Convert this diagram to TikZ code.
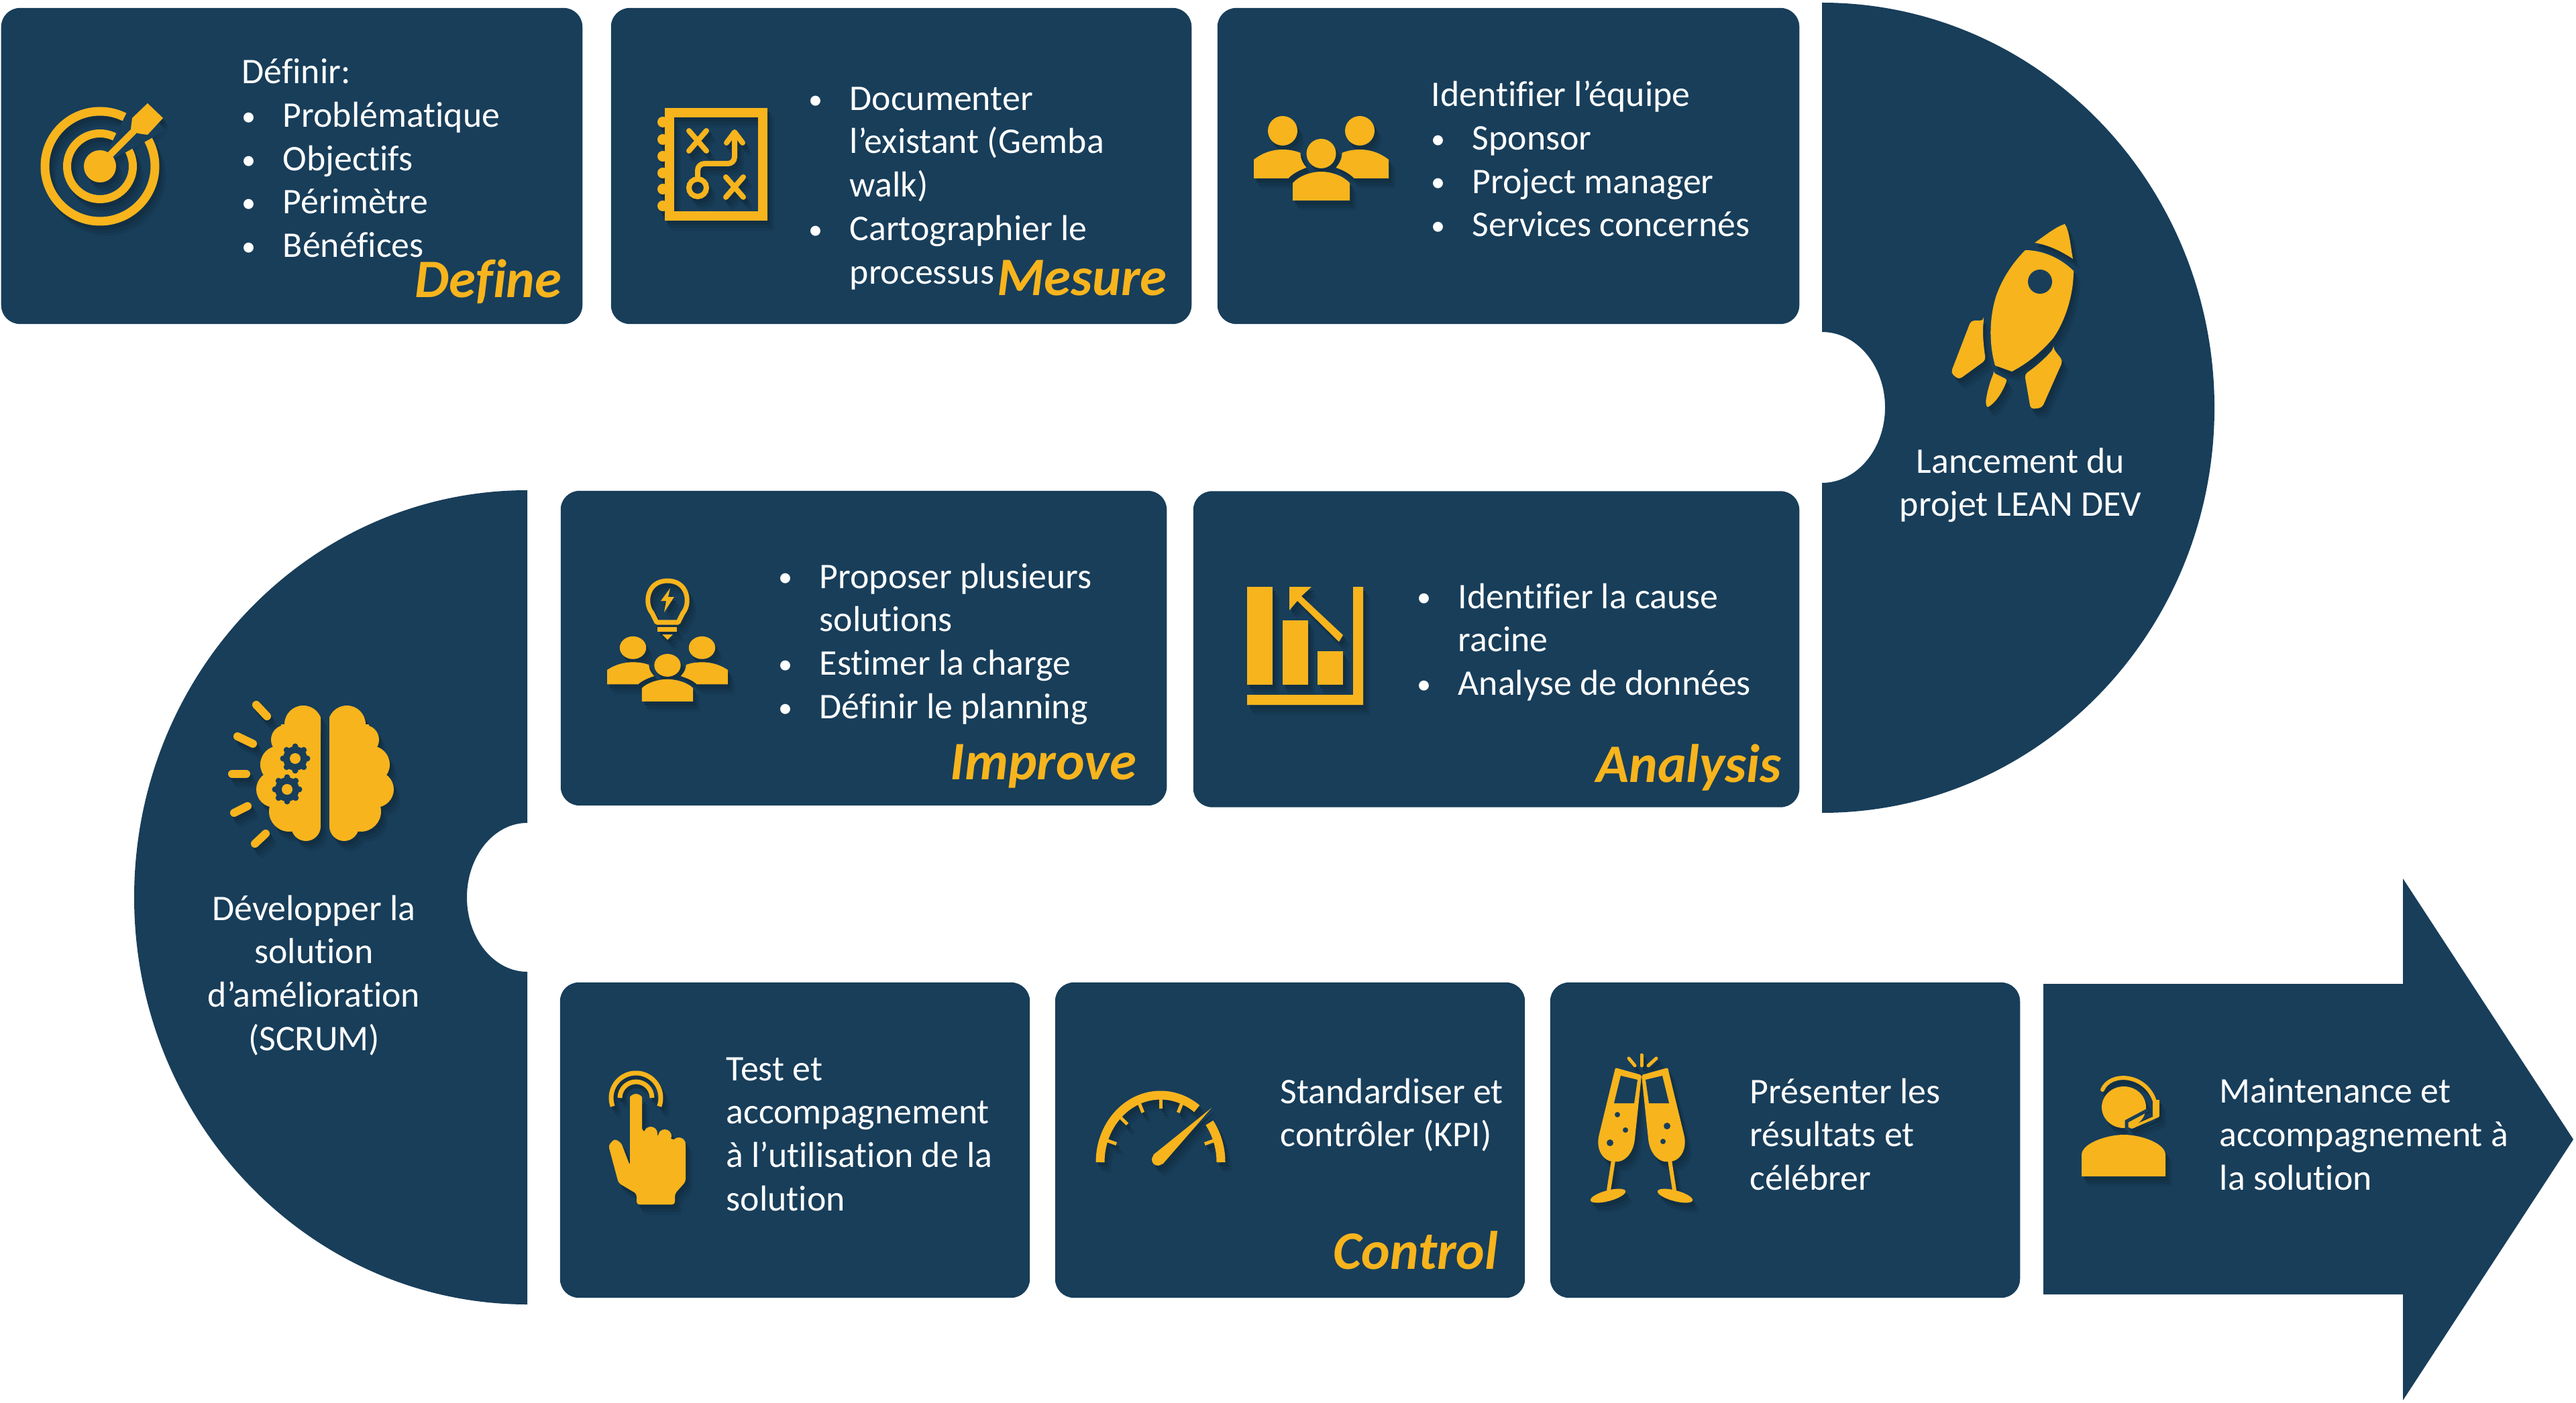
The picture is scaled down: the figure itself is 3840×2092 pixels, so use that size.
\documentclass[tikz,border=0pt]{standalone}
\usepackage{fontspec}
\setmainfont[Ligatures=NoCommon]{Carlito}
\usetikzlibrary{shapes.geometric}
\definecolor{navy}{HTML}{183E5A}
\definecolor{gold}{HTML}{F7B41D}
\tikzstyle{card} = [fill=navy,rounded corners=0.28cm,inner sep=0pt]
\tikzstyle{txt} = [text=white,font=\fontsize{15.3}{18.4}\selectfont,align=left,inner sep=0pt,anchor=north west,execute at begin node=\strut]
\tikzstyle{step name} = [text=gold,font=\fontsize{23}{26}\selectfont\bfseries\itshape,inner sep=0pt,anchor=base east]
\tikzstyle{icf} = [fill=gold]
\tikzstyle{ics} = [draw=gold]
\tikzstyle{icc} = [fill=navy]
\newcommand{\bu}{\makebox[0.61cm][l]{\raisebox{0.6pt}{\fontsize{12}{12}\selectfont\textbullet}}}
\newcommand{\bc}{\hspace*{0.61cm}}
% one icon with its soft shadow: three darker copies, then the icon
\newcommand{\icon}[4]{
  \foreach \dx/\dy/\sh in {10/15/93,7/11/85,4/6/75}{
    \begin{scope}[icf/.style={fill=navy!\sh!black},ics/.style={draw=navy!\sh!black},icc/.style={fill=none}]
      \pic[#4] at (#2+\dx,#3+\dy) {#1};
    \end{scope}
  }
  \pic[#4] at (#2,#3) {#1};
}
\tikzset{
  target/.pic={
    \draw[ics,line width=0.13cm] (149,248) circle (82);
    \draw[ics,line width=0.12cm] (149,248) circle (49);
    \fill[icc] (149,248) -- (204,138) -- (246,195) -- cycle;
    \fill[icf] (149,248) circle (24);
    \draw[ics,line width=0.1cm] (155,240) -- (205,190);
    \fill[icf] (220,154) -- (243,176) -- (220,201) -- (206,199) -- (195,192) -- (197,176) -- cycle;
  },
  plan/.pic={
    \draw[ics,line width=0.14cm] (998,168) rectangle (1137,322);
    \foreach \y in {182,208,233,258,282,307} \fill[icf] (988,\y) circle (8);
    \draw[ics,line width=0.08cm,line cap=round] (1027,195) -- (1053,225) (1053,195) -- (1027,225);
    \draw[ics,line width=0.08cm,line cap=round] (1082,264) -- (1108,294) (1108,264) -- (1082,294);
    \draw[ics,line width=0.08cm] (1040,280) circle (13);
    \draw[ics,line width=0.08cm,rounded corners=0.1cm] (1040,267) -- (1040,244) -- (1095,244) -- (1095,200);
    \draw[ics,line width=0.08cm,line cap=round,line join=round] (1083,213) -- (1095,197) -- (1107,213);
  },
  team/.pic={
    \foreach \m in {1,-1}{
      \begin{scope}[xscale=\m]
        \fill[icf] (-57.5,-34) circle (22);
        \fill[icf] (-100.5,37) -- (-100.5,9) .. controls (-85,-3) and (-70,-6) .. (-57.5,-6) .. controls (-47,-6) and (-38,-4) .. (-31,-1) .. controls (-31,8) and (-27,15) .. (-22,21) .. controls (-31,24) and (-43,30) .. (-49,37) -- cycle;
      \end{scope}
    }
    \fill[icf] (0,0) circle (22);
    \fill[icf] (-42.5,70) -- (-42.5,44) .. controls (-34,34) and (-16,27) .. (0,27) .. controls (16,27) and (34,34) .. (42.5,44) -- (42.5,70) -- cycle;
  },
  bulb/.pic={
    \draw[ics,line width=0.07cm,line join=round] (979,928) -- (1011,928) -- (1018,914) .. controls (1030,900) and (1026,866) .. (995,866) .. controls (964,866) and (960,900) .. (972,914) -- cycle;
    \fill[icf] (999,877) -- (985,896) -- (993,896) -- (990,913) -- (1005,890) -- (996,890) -- cycle;
    \fill[icf] (980,935) rectangle (1009,942);
    \fill[icf] (987,946) -- (1003,946) -- (995,954) -- cycle;
  },
  bars/.pic={
    \fill[icf] (1859,875) rectangle (1897,1021);
    \fill[icf] (1912,925) rectangle (1950,1021);
    \fill[icf] (1964,971) rectangle (2002,1021);
    \fill[icf] (1859,1036) -- (2017,1036) -- (2017,875) -- (2032,875) -- (2032,1051) -- (1859,1051) -- cycle;
    \fill[icf] (1922,875) -- (1955,875) -- (1940,889) -- (2002,947) -- (1996,957) -- (1934,896) -- (1922,910) -- cycle;
  },
  rocket/.pic={
    \fill[icf] (3033,362) .. controls (3050,350) and (3065,338) .. (3078,334) .. controls (3085,345) and (3086,365) .. (3090,386) .. controls (3070,373) and (3052,365) .. (3033,362) -- cycle;
    \fill[icf] (3019,373) .. controls (3045,373) and (3072,385) .. (3091,404) .. controls (3091,445) and (3075,485) .. (3060,505) .. controls (3040,528) and (3020,543) .. (2999,554) -- (2974,545) .. controls (2964,510) and (2966,470) .. (2976,440) .. controls (2985,415) and (3000,392) .. (3019,373) -- cycle;
    \fill[icc] (3041,420) circle (18);
    \fill[icf,rounded corners=0.05cm] (2957,478) -- (2938,478) -- (2908,556) -- (2920,566) -- (2960,537) .. controls (2957,517) and (2955,497) .. (2957,478) -- cycle;
    \fill[icf,rounded corners=0.03cm] (2972,556) -- (2992,566) .. controls (2985,585) and (2975,600) .. (2962,608) -- (2960,600) .. controls (2962,585) and (2966,570) .. (2972,556) -- cycle;
    \fill[icf,rounded corners=0.05cm] (3061,520) -- (3075,538) -- (3044,608) -- (3027,610) -- (3018,558) .. controls (3033,548) and (3048,535) .. (3061,520) -- cycle;
  },
  lobes/.pic={
    \begin{scope}
      \clip (491,1040) rectangle (600,1265);
      \foreach \cx/\cy/\cr in {517/1080/28,543/1103/22,553/1140/28,560/1177/27,538/1210/30,513/1232/22}
        \fill[icf] (\cx,\cy) circle (\cr);
      \fill[icf] (491,1080) rectangle (550,1232);
    \end{scope}
  },
  gear/.pic={
    \fill[icc] (0,0) circle (18);
    \foreach \a in {0,45,...,315} \fill[icc] (\a:18) circle (4.5);
    \fill[icf] (0,0) circle (8);
  },
  brain/.pic={
    \pic at (0,0) {lobes};
    \pic[xscale=-1] at (969,0) {lobes};
    \pic at (440,1131) {gear};
    \pic at (428,1177) {gear};
    \foreach \a/\b/\c/\d in {382/1051/398/1068,354/1098/377/1109,346/1154/367/1154,349/1212/369/1202,380/1258/396/1243}
      \draw[ics,line width=0.12cm,line cap=round] (\a,\b) -- (\c,\d);
  },
  hand/.pic={
    \draw[ics,line width=0.07cm] (948,1637) ++(20:37) arc[start angle=20,end angle=-200,radius=37];
    \draw[ics,line width=0.07cm] (948,1637) ++(0:24) arc[start angle=0,end angle=-180,radius=24];
    \fill[icc] (948,1637) circle (14);
    \fill[icf,rounded corners=0.04cm] (939,1640) arc[start angle=180,end angle=360,radius=9] -- (957,1686) -- (1022,1704) -- (1022,1762) -- (1006,1780) -- (1006,1796) -- (949,1796) -- (949,1780) -- (922,1764) -- (907,1708) -- (916,1698) -- (926,1704) -- (939,1738) -- cycle;
    \foreach \cx/\cy in {970/1690,991/1694,1012/1706} \fill[icf] (\cx,\cy) circle (10);
  },
  gauge/.pic={
    \draw[ics,line width=0.13cm] (1640,1733) arc[start angle=180,end angle=307,x radius=90,y radius=100];
    \draw[ics,line width=0.13cm] (1730,1733) ++({90*cos(324)},{100*sin(324)}) arc[start angle=324,end angle=360,x radius=90,y radius=100];
    \foreach \a in {200,225,248,270,292,340}
      \draw[ics,line width=0.05cm] ({1730+84*cos(\a)},{1733+94*sin(\a)}) -- ({1730+70*cos(\a)},{1733+80*sin(\a)});
    \fill[icf] (1806,1652) -- (1733,1736) -- (1719,1722) -- cycle;
    \fill[icf] (1726,1729) circle (9);
  },
  flute/.pic={
    \fill[icf,rounded corners=0.02cm] (2408,1592) -- (2447,1603) -- (2437,1698) .. controls (2434,1722) and (2420,1733) .. (2407,1732) .. controls (2392,1732) and (2380,1718) .. (2383,1695) -- cycle;
    \fill[icc] (2416,1604) -- (2441,1610) -- (2436,1645) -- (2406,1645) -- cycle;
    \draw[ics,line width=0.06cm] (2405,1730) -- (2398,1775);
    \fill[icf,rotate around={15:(2397,1783)}] (2397,1783) ellipse (27 and 8);
  },
  flutes/.pic={
    \pic at (0,0) {flute};
    \pic[xscale=-1] at (4894,0) {flute};
    \foreach \cx/\cy/\cr in {2411/1662/4,2423/1685/4,2400/1704/5,2485/1679/5,2479/1702/4} \fill[icc] (\cx,\cy) circle (\cr);
    \foreach \a/\b/\c/\d in {2447/1573/2447/1589,2428/1578/2437/1589,2469/1578/2457/1589}
      \draw[ics,line width=0.05cm,line cap=round] (\a,\b) -- (\c,\d);
  },
  headset/.pic={
    \fill[icf] (3103,1754) -- (3103,1722) .. controls (3103,1705) and (3140,1692) .. (3166,1692) .. controls (3192,1692) and (3228,1705) .. (3228,1722) -- (3228,1754) -- cycle;
    \fill[icf] (3166,1651) ellipse (33 and 31);
    \draw[draw=navy,line width=0.05cm] (3202,1655) -- (3170,1672) -- (3170,1686);
    \draw[ics,line width=0.06cm,line cap=round] (3134,1625) .. controls (3145,1598) and (3198,1600) .. (3212,1642);
    \fill[icf] (3209,1640) rectangle (3219,1665);
    \draw[ics,line width=0.04cm] (3217,1664) -- (3180,1680);
    \fill[icf] (3178,1678) circle (5);
  }
}
\begin{document}
\begin{tikzpicture}[x=0.01cm,y=-0.01cm]
\useasboundingbox (0,0) rectangle (3840,2092);
% top row
\node[card,minimum width=8.66cm,minimum height=4.71cm] (define) at (435,247.5) {};
\node[card,minimum width=8.65cm,minimum height=4.71cm] (mesure) at (1343.5,247.5) {};
\node[card,minimum width=8.67cm,minimum height=4.71cm] (equipe) at (2248.5,247.5) {};
% half discs
\fill[navy] (2716,4) arc[start angle=-90,end angle=90,x radius=585,y radius=604] -- (2716,720) arc[start angle=90,end angle=-90,x radius=94,y radius=112.5] -- cycle;
\fill[navy] (786,731) arc[start angle=-90,end angle=-270,x radius=586,y radius=607] -- (786,1449) arc[start angle=90,end angle=270,x radius=90,y radius=111] -- cycle;
% middle row
\node[card,minimum width=9.03cm,minimum height=4.69cm] (improve) at (1287.5,966.5) {};
\node[card,minimum width=9.03cm,minimum height=4.71cm] (analysis) at (2230.5,968) {};
% bottom row
\node[card,minimum width=7cm,minimum height=4.7cm] (test) at (1185,1700) {};
\node[card,minimum width=7cm,minimum height=4.7cm] (control) at (1923,1700) {};
\node[card,minimum width=7cm,minimum height=4.7cm] (resultats) at (2661,1700) {};
\fill[navy] (3046,1467) -- (3582,1467) -- (3582,1310) -- (3836,1699) -- (3582,2088) -- (3582,1930) -- (3046,1930) -- cycle;
% texts
\node[txt] (definir) at (360,87) {Définir:\\\bu Problématique\\\bu Objectifs\\\bu Périmètre\\\bu Bénéfices};
\node[txt] (documenter) at (1205,129) {\bu Documenter\\\bc l’existant (Gemba\\\bc walk)\\\bu Cartographier le\\\bc processus};
\node[txt] (identifier) at (2133,120) {Identifier l’équipe\\\bu Sponsor\\\bu Project manager\\\bu Services concernés};
\node[txt,align=center,anchor=north] (lancement) at (3012,667) {Lancement du\\projet LEAN DEV};
\node[txt] (proposer) at (1160,839) {\bu Proposer plusieurs\\\bc solutions\\\bu Estimer la charge\\\bu Définir le planning};
\node[txt] (cause) at (2112,869) {\bu Identifier la cause\\\bc racine\\\bu Analyse de données};
\node[txt,align=center,anchor=north] (developper) at (468,1334) {Développer la\\solution\\d’amélioration\\(SCRUM)};
\node[txt] (accomp) at (1082,1576) {Test et\\accompagnement\\à l’utilisation de la\\solution};
\node[txt] (standard) at (1908,1607) {Standardiser et\\contrôler (KPI)};
\node[txt] (presenter) at (2608,1607) {Présenter les\\résultats et\\célébrer};
\node[txt] (maintenance) at (3308,1607) {Maintenance et\\accompagnement à\\la solution};
% step names
\node[step name] (ldefine) at (838,444) {Define};
\node[step name] (lmesure) at (1740,441) {Mesure};
\node[step name] (limprove) at (1695,1162) {Improve};
\node[step name] (lanalysis) at (2656,1166) {Analysis};
\node[step name] (lcontrol) at (2234,1892) {Control};
% icons
\icon{target}{0}{0}{}
\icon{plan}{0}{0}{}
\icon{team}{1969.5}{229}{}
\icon{bulb}{0}{0}{}
\icon{team}{995}{992}{xscale=0.895,yscale=0.77}
\icon{bars}{0}{0}{}
\icon{rocket}{0}{0}{}
\icon{brain}{0}{0}{}
\icon{hand}{0}{0}{}
\icon{gauge}{0}{0}{}
\icon{flutes}{0}{0}{}
\icon{headset}{0}{0}{}
\end{tikzpicture}
\end{document}
